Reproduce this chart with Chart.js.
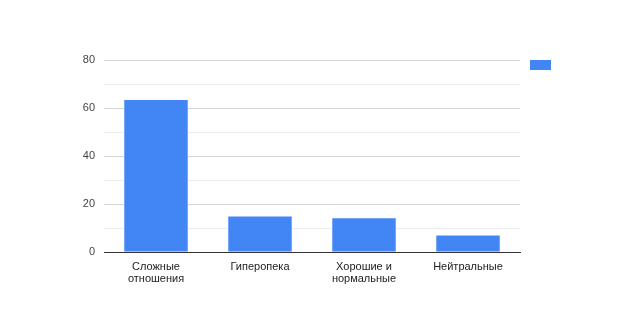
<!DOCTYPE html>
<html>
<head>
<meta charset="utf-8">
<script src="https://cdn.jsdelivr.net/npm/chart.js@4"></script>
<style>
  html, body { margin: 0; padding: 0; background: #fff; }
  #wrap { width: 624px; height: 312px; }
</style>
</head>
<body>
<div id="wrap"><canvas id="chart"></canvas></div>
<script>
// data
const categories = [['Сложные', 'отношения'], 'Гиперопека', ['Хорошие и', 'нормальные'], 'Нейтральные'];
const values = [63.3, 14.8, 14.1, 6.9];
const barColor = '#4285f4';

// small legend swatch on the right, no text
const swatch = {
    id: 'swatch',
    afterDraw(chart) {
        const ctx = chart.ctx;
        const a = chart.chartArea;
        ctx.save();
        ctx.fillStyle = barColor;
        ctx.fillRect(a.right + 10, a.top, 21, 10);
        ctx.restore();
    }
};

Chart.defaults.font.family = '"Liberation Sans", Arial, sans-serif';
Chart.defaults.font.size = 11;

const ctx = document.getElementById('chart').getContext('2d');
new Chart(ctx, {
    type: 'bar',
    data: {
        labels: categories,
        datasets: [{
            label: '',
            data: values,
            backgroundColor: barColor,
            categoryPercentage: 0.61,
            barPercentage: 1
        }]
    },
    options: {
        responsive: true,
        maintainAspectRatio: false,
        animation: false,
        layout: { padding: { top: 60, right: 104, left: 0, bottom: 0 } },
        plugins: {
            legend: { display: false },
            tooltip: { enabled: false }
        },
        scales: {
            x: {
                grid: { display: false },
                border: { color: '#333', width: 1 },
                ticks: { color: '#222', maxRotation: 0, padding: 1, font: { lineHeight: 1.1 } },
                afterFit: s => { s.height = 60; }
            },
            y: {
                min: 0,
                max: 80,
                border: { display: false },
                grid: {
                    drawTicks: false,
                    color: c => (c.tick.value % 20 === 0 ? '#d8d8d8' : '#ececec')
                },
                ticks: {
                    stepSize: 10,
                    color: '#444',
                    padding: 9,
                    callback: v => (v % 20 === 0 ? v : '')
                },
                afterFit: s => { s.width = 104; }
            }
        }
    },
    plugins: [swatch]
});
</script>
</body>
</html>
